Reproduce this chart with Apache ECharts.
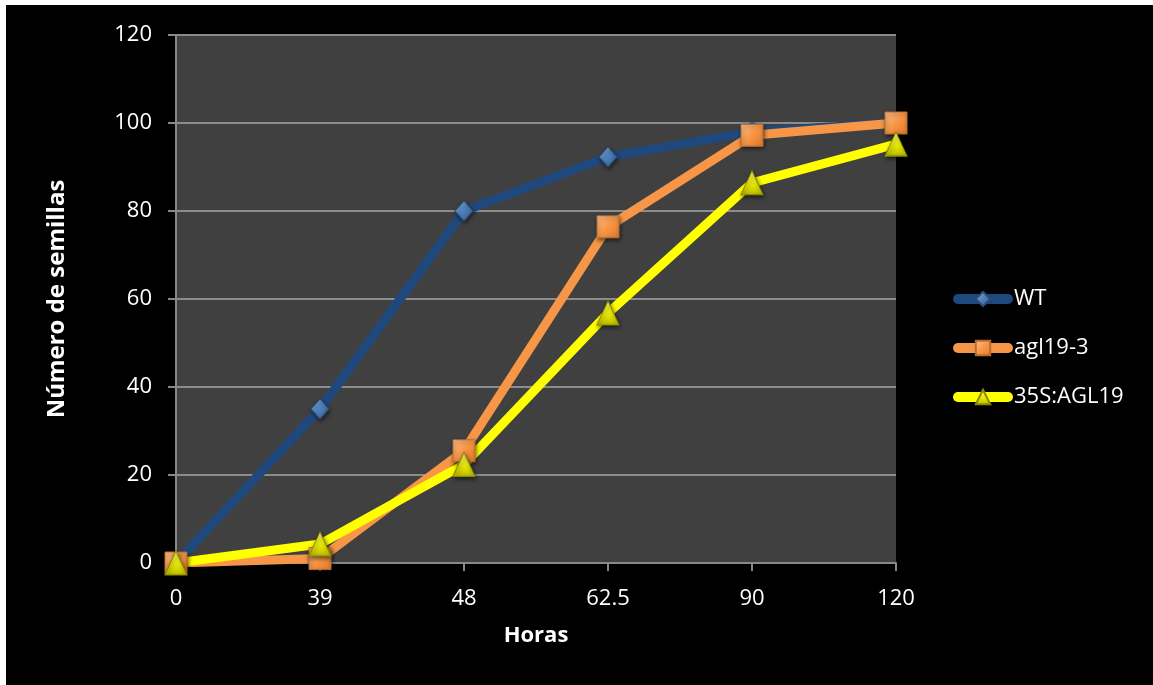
<!DOCTYPE html>
<html>
<head>
<meta charset="utf-8">
<script src="https://cdn.jsdelivr.net/npm/echarts@6/dist/echarts.min.js"></script>
<style>
  html, body { margin: 0; padding: 0; background: #ffffff; }
  #chart { position: absolute; left: 6px; top: 5px; width: 1147px; height: 680px; background: #000000; }
</style>
</head>
<body>
<div id="chart"></div>
<script>
// Germination time points (hours) and counts of germinated seeds
const horas = ['0', '39', '48', '62.5', '90', '120'];
const wt = [0, 35, 80, 92.3, 98, 100];
const agl193 = [0, 1, 25.5, 76.4, 97.2, 100];
const s35Agl19 = [0, 4.3, 22.4, 56.8, 86.4, 95.2];
const yTicks = { min: 0, max: 120, interval: 20 };

const font = '"Open Sans", "Noto Sans", sans-serif';
const chart = echarts.init(document.getElementById('chart'));

function lineSeries(name, data, color, symbol, symbolSize, markerFill, markerBorder) {
  return {
    name: name,
    type: 'line',
    data: data,
    symbol: symbol,
    symbolSize: symbolSize,
    showAllSymbol: true,
    lineStyle: { color: color, width: 9, cap: 'round', join: 'round' },
    itemStyle: {
      color: markerFill,
      borderColor: markerBorder,
      borderWidth: 1,
      shadowColor: 'rgba(0,0,0,0.55)',
      shadowBlur: 4,
      shadowOffsetX: 1,
      shadowOffsetY: 2
    },
    emphasis: { disabled: true },
    animation: false
  };
}

chart.setOption({
  backgroundColor: '#000000',
  grid: {
    left: 170, right: 257, top: 30, bottom: 122,
    show: true, backgroundColor: '#404040', borderWidth: 0
  },
  legend: {
    orient: 'vertical',
    left: 942, top: 278,
    itemWidth: 50, itemHeight: 18, itemGap: 27,
    lineStyle: { width: 10, cap: 'round' },
    textStyle: { color: '#ffffff', fontFamily: font, fontSize: 22, padding: [0, 0, 0, 1] },
    data: ['WT', 'agl19-3', '35S:AGL19']
  },
  xAxis: {
    type: 'category',
    data: horas,
    boundaryGap: false,
    name: 'Horas',
    nameLocation: 'middle',
    nameGap: 62,
    nameTextStyle: { color: '#ffffff', fontFamily: font, fontSize: 22, fontWeight: 'bold' },
    axisLine: { lineStyle: { color: '#888888', width: 2 } },
    axisTick: { show: true, alignWithLabel: true, length: 8, inside: false, lineStyle: { color: '#888888', width: 2 } },
    axisLabel: { color: '#ffffff', fontFamily: font, fontSize: 22, margin: 25 },
    splitLine: { show: false }
  },
  yAxis: {
    type: 'value',
    min: yTicks.min, max: yTicks.max, interval: yTicks.interval,
    name: 'Número de semillas',
    nameLocation: 'middle',
    nameGap: 107,
    nameTextStyle: { color: '#ffffff', fontFamily: font, fontSize: 24, fontWeight: 'bold' },
    axisLine: { show: true, lineStyle: { color: '#888888', width: 2 } },
    axisTick: { show: true, length: 8, inside: false, lineStyle: { color: '#888888', width: 2 } },
    axisLabel: { color: '#ffffff', fontFamily: font, fontSize: 22, margin: 24 },
    splitLine: { show: true, lineStyle: { color: '#8c8c8c', width: 2 } }
  },
  series: [
    lineSeries('WT', wt, '#1f497d', 'diamond', [18, 20],
      new echarts.graphic.LinearGradient(0, 0, 1, 1, [
        { offset: 0, color: '#8db3e8' }, { offset: 0.5, color: '#4f81bd' }, { offset: 1, color: '#2f5a91' }
      ]), '#2c4d75'),
    lineSeries('agl19-3', agl193, '#f79646', 'rect', 22,
      new echarts.graphic.LinearGradient(0, 0, 1, 1, [
        { offset: 0, color: '#ffc58e' }, { offset: 0.5, color: '#f79646' }, { offset: 1, color: '#e0782a' }
      ]), '#b66d31'),
    lineSeries('35S:AGL19', s35Agl19, '#ffff00', 'triangle', [22, 24],
      new echarts.graphic.LinearGradient(0, 0, 0, 1, [
        { offset: 0, color: '#ffff66' }, { offset: 0.6, color: '#e6e600' }, { offset: 1, color: '#b8b800' }
      ]), '#8a8a00')
  ]
});
</script>
</body>
</html>
